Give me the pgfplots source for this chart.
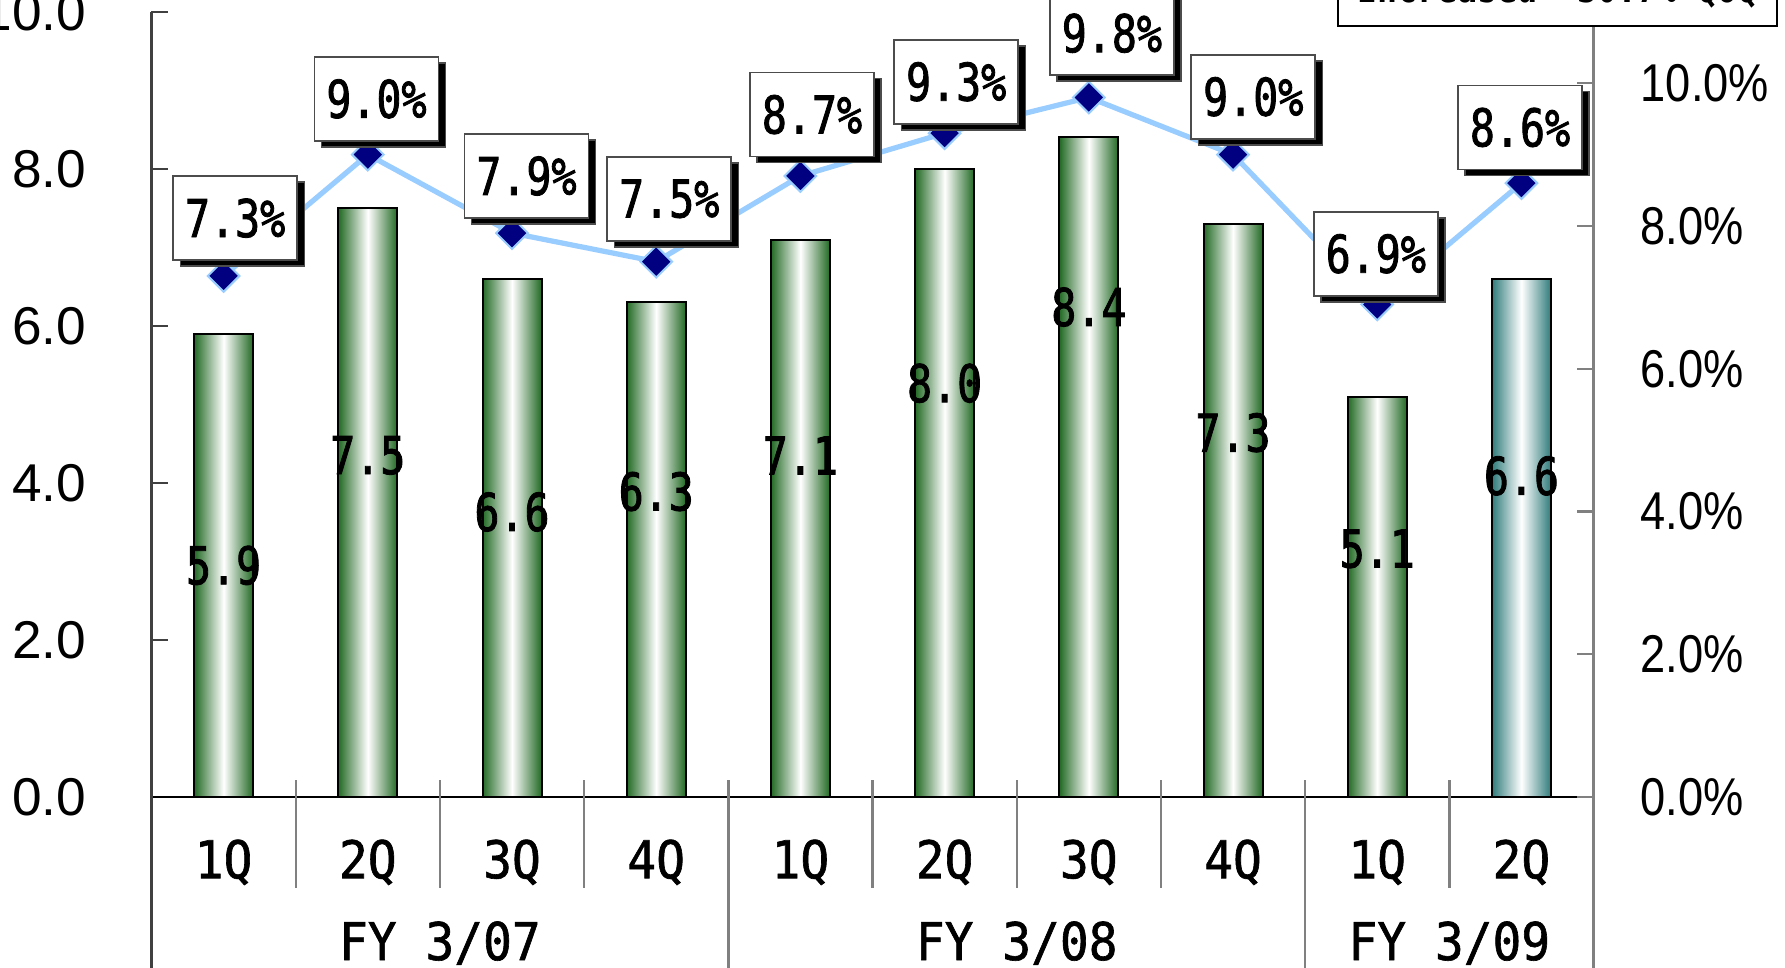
\documentclass[border=0pt]{standalone}
\usepackage{pgfplots}
\pgfplotsset{compat=1.18}
\usepackage{pgfplotstable}
\usepackage{fontspec}
\usetikzlibrary{shadows}
\setmainfont{Liberation Sans}
\newfontfamily\labelfont[FakeStretch=0.8, FakeBold=1.6]{DejaVu Sans Mono}
\newfontfamily\catfont[FakeStretch=0.92, FakeBold=1.2]{DejaVu Sans Mono}
\newfontfamily\boxfont[FakeStretch=0.8]{DejaVu Sans Mono}
\newfontfamily\pctfont[FakeStretch=0.85]{Liberation Sans}

\definecolor{barGreen}{RGB}{34,106,36}
\definecolor{barTeal}{RGB}{48,124,124}
\definecolor{lineBlue}{RGB}{153,204,255}
\definecolor{markNavy}{RGB}{0,0,128}

% quarterly amounts (left axis): position, value, height of the value label
\pgfplotstableread{
x val ly
0 5.9 2.95
1 7.5 4.35
2 6.6 3.63
3 6.3 3.89
4 7.1 4.35
5 8.0 5.27
6 8.4 6.24
7 7.3 4.64
8 5.1 3.16
9 6.6 4.09
}\amounts

% ratio (right axis, %): position, value, label box centre
\pgfplotstableread{
x pct lx ly
0 7.3 0.08 8.11
1 9.0 1.06 9.78
2 7.9 2.10 8.70
3 7.5 3.09 8.38
4 8.7 4.08 9.56
5 9.3 5.08 10.02
6 9.8 6.16 10.70
7 9.0 7.14 9.81
8 6.9 7.99 7.61
9 8.6 8.99 9.38
}\ratios

\tikzset{
  valfont/.style={font=\labelfont\fontsize{13pt}{15pt}\selectfont},
  catlabel/.style={font=\catfont\fontsize{13pt}{15pt}\selectfont},
}
\pgfplotsset{
  cylbar/.style={ybar, bar width=14.75pt, bar shift=0pt, draw=black, line width=0.5pt,
    left color=#1, right color=#1, middle color=white},
  labelsonly/.style={only marks, mark=text, text mark={}, point meta=explicit},
}

\begin{document}
\begin{tikzpicture}
\begin{axis}[
  scale only axis, width=360.5pt, height=196.3pt,
  xmin=-0.5, xmax=9.5, ymin=0, ymax=10,
  axis x line*=bottom, axis y line*=left,
  x axis line style={black, line width=0.6pt, -},
  y axis line style={black!75, line width=0.6pt, -},
  xtick={0,...,9},
  xticklabels={1Q,2Q,3Q,4Q,1Q,2Q,3Q,4Q,1Q,2Q},
  xtick style={draw=none},
  xticklabel style={catlabel, anchor=base, yshift=-20.3pt},
  ytick={0,2,...,10},
  ytick style={black!75, line width=0.6pt},
  major tick length=4.2pt, tick align=inside,
  /pgf/number format/assume math mode=true,
  yticklabel={\pgfmathprintnumber[fixed,fixed zerofill,precision=1]{\tick}},
  yticklabel style={font=\fontsize{13.3pt}{15pt}\selectfont, anchor=east, inner sep=0pt, xshift=-16.1pt},
  clip=false,
]
% one plot per bar, so that each bar carries its own shading
\pgfplotsinvokeforeach{0,...,8}{
  \addplot[cylbar=barGreen, restrict x to domain=#1:#1] table[x=x, y=val] {\amounts};
}
\addplot[cylbar=barTeal, restrict x to domain=9:9] table[x=x, y=val] {\amounts};
% value labels inside the bars
\addplot[labelsonly,
  nodes near coords={\pgfmathprintnumber[fixed,fixed zerofill,precision=1]{\pgfplotspointmeta}},
  every node near coord/.append style={valfont, anchor=center, inner sep=0pt, text=black}]
  table[x=x, y=ly, meta=val] {\amounts};

% quarter separators
\pgfplotsinvokeforeach{0.5,1.5,2.5,4.5,5.5,6.5,8.5}{
  \draw[gray, line width=0.6pt] ([yshift=4.25pt]axis cs:#1,0) -- ([yshift=-22.8pt]axis cs:#1,0);
}
% fiscal-year separators
\pgfplotsinvokeforeach{3.5,7.5}{
  \draw[gray, line width=0.6pt] ([yshift=4.25pt]axis cs:#1,0) -- ([yshift=-45pt]axis cs:#1,0);
}
\draw[black!75, line width=0.6pt] (axis cs:-0.5,0) -- ([yshift=-45pt]axis cs:-0.5,0);
\draw[gray, line width=0.6pt] (axis cs:9.5,0) -- ([yshift=-45pt]axis cs:9.5,0);

\node[catlabel, anchor=base] at ([yshift=-40.75pt]axis cs:1.5,0) {FY 3/07};
\node[catlabel, anchor=base] at ([yshift=-40.75pt]axis cs:5.5,0) {FY 3/08};
\node[catlabel, anchor=base] at ([yshift=-40.75pt]axis cs:8.5,0) {FY 3/09};
\end{axis}

\begin{axis}[
  scale only axis, width=360.5pt, height=196.3pt,
  xmin=-0.5, xmax=9.5, ymin=0, ymax=11,
  axis x line=none, axis y line*=right,
  y axis line style={gray, line width=0.6pt, -},
  ytick={0,2,...,10},
  ytick style={gray, line width=0.6pt},
  major tick length=4.2pt, tick align=inside,
  /pgf/number format/assume math mode=true,
  yticklabel={\pgfmathprintnumber[fixed,fixed zerofill,precision=1]{\tick}\%},
  yticklabel style={font=\pctfont\fontsize{13.3pt}{15pt}\selectfont, anchor=west, inner sep=0pt, xshift=11.6pt},
  clip=false,
]
\addplot[lineBlue, line width=1.3pt, mark=square*, mark size=2.8pt,
  mark options={rotate=45, fill=markNavy, draw=lineBlue, line width=0.5pt}]
  table[x=x, y=pct] {\ratios};
% boxed percentage labels
\addplot[labelsonly,
  nodes near coords={\pgfmathprintnumber[fixed,fixed zerofill,precision=1]{\pgfplotspointmeta}\%},
  every node near coord/.append style={valfont, anchor=center, text=black,
    draw=black!70, line width=0.4pt, fill=white, inner sep=0pt,
    minimum width=31pt, minimum height=21pt,
    drop shadow={shadow xshift=1.8pt, shadow yshift=-1.5pt, fill=black, opacity=1}}]
  table[x=lx, y=ly, meta=pct] {\ratios};
\draw[gray, line width=0.6pt] (rel axis cs:1,1) -- ++(0,5pt);
\end{axis}

\node[draw=black, line width=0.6pt, fill=white, anchor=south,
  minimum width=109.75pt, text depth=0pt, inner ysep=5.75pt,
  font=\boxfont\bfseries\fontsize{10.4pt}{12pt}\selectfont]
  at (351.5pt,192.5pt) {Increased\ \ 30.7\% QoQ};

\pgfresetboundingbox
\path[use as bounding box] (-37.875pt,-42.5pt) rectangle (408.375pt,199.25pt);
\end{tikzpicture}
\end{document}
